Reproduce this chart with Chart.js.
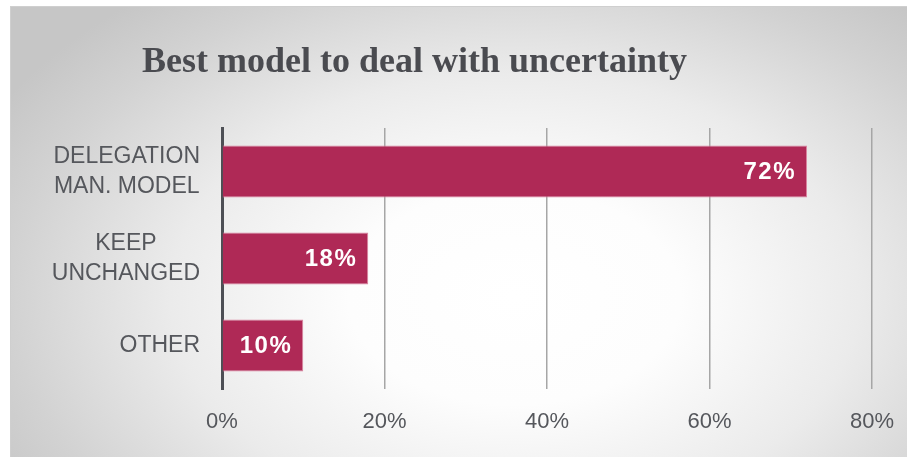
<!DOCTYPE html>
<html>
<head>
<meta charset="utf-8">
<script src="https://cdn.jsdelivr.net/npm/chart.js@4.4.1/dist/chart.umd.min.js"></script>
<style>
  html, body { margin: 0; padding: 0; background: #ffffff; }
  #wrap { position: relative; width: 907px; height: 457px; overflow: hidden; }
  #frame {
    position: absolute; left: 10px; top: 6px; right: -4px; bottom: -4px;
    border: 1px solid #cfcfcf;
    background: radial-gradient(ellipse 66% 85% at 56% 64%, #ffffff 0%, #fdfdfd 28%, #ebebeb 58%, #d2d2d2 85%, #c6c6c6 100%);
  }
  #box { position: absolute; left: 0; top: 0; width: 907px; height: 457px; }
</style>
</head>
<body>
<div id="wrap">
  <div id="frame"></div>
  <div id="box"><canvas id="chart"></canvas></div>
</div>
<script>
// chart data
const titleText = 'Best model to deal with uncertainty';
const categories = [['DELEGATION', 'MAN. MODEL'], ['KEEP', 'UNCHANGED'], ['OTHER']];
const shares = [72, 18, 10];
const xTicks = [0, 20, 40, 60, 80];

const BAR_COLOR = '#af2956';
const TEXT_GRAY = '#55575c';
const SANS = '"Liberation Sans", Arial, sans-serif';

// title drawn by hand so it can sit left of centre like the original
const titlePlugin = {
    id: 'leftTitle',
    afterDraw(chart) {
        const ctx = chart.ctx;
        ctx.save();
        ctx.font = 'bold 36px "Liberation Serif", "Times New Roman", serif';
        ctx.fillStyle = '#4a4b50';
        ctx.textAlign = 'left';
        ctx.textBaseline = 'alphabetic';
        ctx.fillText(titleText, 142, 72);
        ctx.restore();
    }
};

// category labels: lines centred on each other, block flush right against the axis
const categoryLabels = {
    id: 'categoryLabels',
    afterDraw(chart) {
        const ctx = chart.ctx;
        const yScale = chart.scales.y;
        const right = chart.chartArea.left - 22;
        const lineH = 30;
        ctx.save();
        ctx.font = '23px ' + SANS;
        ctx.fillStyle = TEXT_GRAY;
        ctx.textAlign = 'center';
        ctx.textBaseline = 'middle';
        categories.forEach((lines, i) => {
            const y = yScale.getPixelForTick(i);
            const w = Math.max(...lines.map(l => ctx.measureText(l).width));
            const cx = right - w / 2;
            lines.forEach((l, j) => {
                ctx.fillText(l, cx, y + (j - (lines.length - 1) / 2) * lineH);
            });
        });
        ctx.restore();
    }
};

// white value labels inside the bar ends
const valueLabels = {
    id: 'valueLabels',
    afterDatasetsDraw(chart) {
        const ctx = chart.ctx;
        const meta = chart.getDatasetMeta(0);
        ctx.save();
        ctx.font = 'bold 24px ' + SANS;
        ctx.letterSpacing = '1.5px';
        ctx.fillStyle = '#ffffff';
        ctx.textAlign = 'right';
        ctx.textBaseline = 'middle';
        meta.data.forEach((bar, i) => {
            ctx.fillText(shares[i] + '%', bar.x - 11, bar.y + 1);
        });
        ctx.restore();
    }
};

new Chart(document.getElementById('chart').getContext('2d'), {
    type: 'bar',
    data: {
        labels: categories,
        datasets: [{
            data: shares,
            backgroundColor: BAR_COLOR,
            borderColor: '#d9849f',
            borderWidth: 1,
            borderSkipped: 'left',
            categoryPercentage: 1,
            barPercentage: 0.6
        }]
    },
    options: {
        indexAxis: 'y',
        responsive: true,
        maintainAspectRatio: false,
        animation: false,
        layout: { padding: { left: 10, right: 35, top: 128, bottom: 0 } },
        plugins: {
            legend: { display: false },
            title: { display: false },
            tooltip: { enabled: false }
        },
        scales: {
            x: {
                min: 0,
                max: 80,
                afterBuildTicks: (s) => { s.ticks = xTicks.map(v => ({ value: v })); },
                afterFit: (s) => { s.height = 68; },
                ticks: {
                    padding: 10,
                    color: TEXT_GRAY,
                    font: { family: SANS, size: 22, lineHeight: 2.1 },
                    callback: (v) => v + '%'
                },
                grid: { color: '#a6a6a6', lineWidth: 1.5, drawTicks: false },
                border: { display: false }
            },
            y: {
                afterFit: (s) => { s.width = 212; },
                ticks: { display: false },
                grid: { display: false },
                border: { display: true, color: '#4d4f55', width: 3 }
            }
        }
    },
    plugins: [titlePlugin, categoryLabels, valueLabels]
});
</script>
</body>
</html>
